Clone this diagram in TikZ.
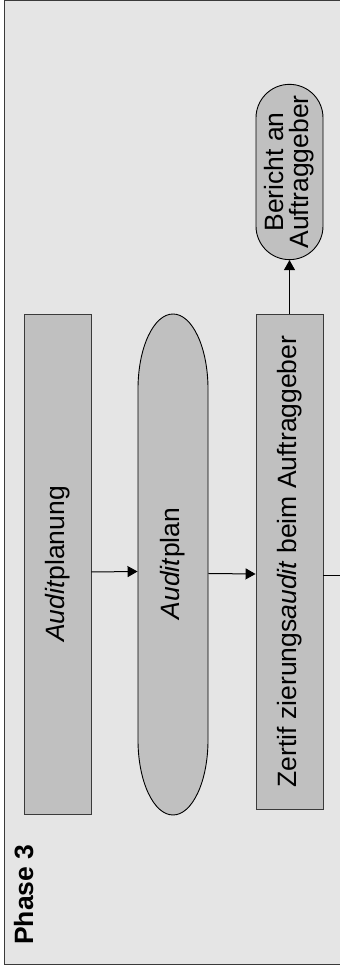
\documentclass[tikz,border=0pt]{standalone}
\usepackage{fontspec}
\setmainfont{Liberation Sans}
\usetikzlibrary{arrows.meta, positioning, shapes.misc}
\definecolor{PHBG}{HTML}{E5E5E5}
\definecolor{PHBOX}{HTML}{C0C0C0}
\definecolor{PHLINE}{HTML}{3A3A3A}

\begin{document}
\begin{tikzpicture}[x=1pt, y=1pt,
          box/.style={rectangle, draw=PHLINE, fill=PHBOX, line width=0.9pt,
                      rotate=90, minimum height=67, inner sep=0pt,
                      font=\fontsize{26.5}{28}\selectfont},
          report/.style={box, rounded rectangle, draw=black, align=center,
                      font=\fontsize{26.5}{25}\selectfont},
          arr/.style={-{Triangle[length=10pt, width=11pt]}, line width=1pt}
        ]
          \useasboundingbox (0,0) rectangle (340,975);
          % phase frame
          \draw[PHLINE, fill=PHBG, line width=1.5pt] (4.5,10.5) rectangle (360,974.5);
          \node[rotate=90, anchor=base west, inner sep=0pt,
                font=\fontsize{26.5}{28}\selectfont\bfseries] (phase) at (33,30) {Phase 3};
          % process steps
          \node[box, minimum width=500] (planung) at (57.5,411) {\textit{Audit}planung};
          \fill[PHBOX] (138,235) -- (138,586) arc[start angle=180, end angle=0, x radius=35, y radius=75]
            -- (208,235) arc[start angle=0, end angle=-180, x radius=35, y radius=75] -- cycle;
          \draw[line width=0.9pt] (138,235) -- (138,586) arc[start angle=180, end angle=0, x radius=35, y radius=75]
            -- (208,235) arc[start angle=0, end angle=-180, x radius=35, y radius=75] -- cycle;
          \node[box, draw=none, fill=none, minimum width=499, minimum height=70] (plan) at (173,411.5) {\textit{Audit}plan};
          \node[box, minimum width=495] (audit) at (289.5,413.5) {Zertif zierungs\textit{audit} beim Auftraggeber};
          \node[report, minimum width=174] (bericht) at (289.5,803) {Bericht an\\Auftraggeber};
          \coordinate (weiter) at (345,399);
          % connectors
          \draw[arr] ([yshift=-8]planung.south) -- ([yshift=-8]plan.north);
          \draw[arr] ([yshift=-10]plan.south) -- ([yshift=-12.5]audit.north);
          \draw[arr] (audit.east) -- (bericht.west);
          \draw[line width=1pt] (audit.south |- weiter) -- (weiter);
        \end{tikzpicture}
\end{document}
